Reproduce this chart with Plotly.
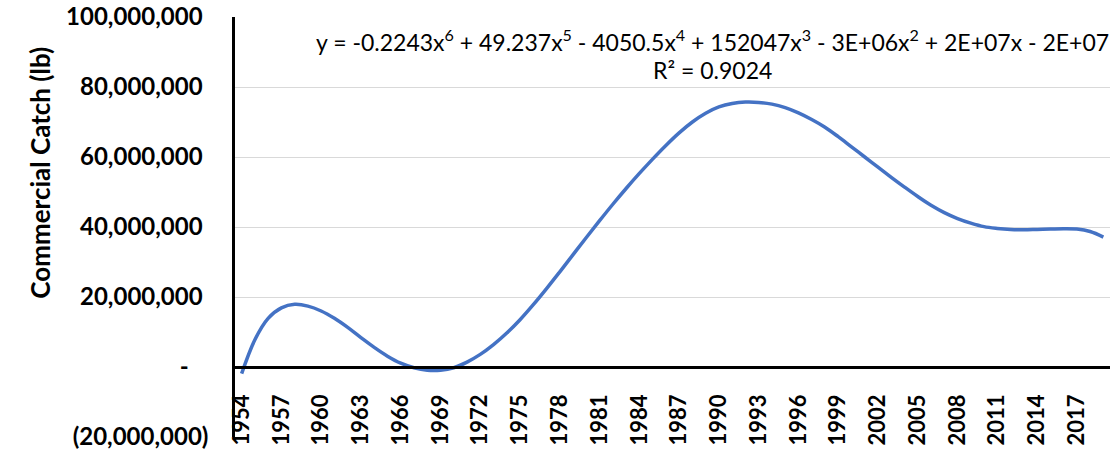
import plotly.graph_objects as go

# Polynomial trend of commercial catch, sampled once per year (millions of lb)
years = list(range(1954, 2020))
catch_mlb = [
    -1.9, 7.8, 13.9, 16.9, 17.9, 17.4, 16.0, 13.9, 11.3, 8.4,
    5.6, 3.1, 1.1, -0.2, -0.9, -0.9, -0.2, 1.4, 3.6, 6.4,
    9.7, 13.5, 17.8, 22.4, 27.2, 32.1, 37.0, 41.8, 46.5, 51.0,
    55.3, 59.4, 63.3, 66.9, 70.0, 72.5, 74.3, 75.3, 75.7, 75.6,
    75.1, 74.1, 72.6, 70.7, 68.5, 65.8, 62.9, 60.0, 57.1, 54.2,
    51.4, 48.7, 46.2, 44.1, 42.4, 41.1, 40.1, 39.6, 39.3, 39.2,
    39.3, 39.4, 39.5, 39.4, 38.7, 37.1,
]
catch_lb = [v * 1_000_000 for v in catch_mlb]

x_ticks = years[::3]
y_ticks = [-20_000_000, 0, 20_000_000, 40_000_000, 60_000_000, 80_000_000, 100_000_000]
y_tick_text = ["(20,000,000)", "-\u2007\u00a0", "20,000,000\u00a0", "40,000,000\u00a0",
               "60,000,000\u00a0", "80,000,000\u00a0", "100,000,000\u00a0"]

equation = ("y = -0.2243x<sup>6</sup> + 49.237x<sup>5</sup> - 4050.5x<sup>4</sup> + "
            "152047x<sup>3</sup> - 3E+06x<sup>2</sup> + 2E+07x - 2E+07")
r_squared = "R² = 0.9024"
y_title = "Commercial Catch (lb)"

FONT = "Lato"
Y_MIN, Y_MAX = -20_000_000, 100_000_000

fig = go.Figure(
    go.Scatter(
        x=years,
        y=catch_lb,
        mode="lines",
        line=dict(color="#4472C4", width=3.5, shape="spline", smoothing=1.0),
        hoverinfo="skip",
    )
)

fig.update_layout(
    width=1120,
    height=452,
    margin=dict(l=235, r=10, t=17, b=15, autoexpand=False),
    plot_bgcolor="white",
    paper_bgcolor="white",
    showlegend=False,
    font=dict(family=FONT, color="black"),
    xaxis=dict(
        range=[years[0] - 0.5, years[-1] + 0.5],
        tickmode="array",
        tickvals=x_ticks,
        ticktext=[str(y) for y in x_ticks],
        tickangle=-90,
        ticks="",
        ticklabelstandoff=17,
        tickfont=dict(family=FONT, size=22, weight="bold", color="black"),
        showgrid=False,
        zeroline=False,
        showline=True,
        linecolor="black",
        linewidth=2.5,
        anchor="free",
        position=(0 - Y_MIN) / (Y_MAX - Y_MIN),
        automargin=False,
    ),
    yaxis=dict(
        range=[Y_MIN, Y_MAX],
        tickmode="array",
        tickvals=y_ticks,
        ticktext=y_tick_text,
        ticks="",
        ticklabelstandoff=19,
        tickfont=dict(family=FONT, size=24, weight="bold", color="black"),
        showgrid=True,
        gridcolor="#D9D9D9",
        gridwidth=1.3,
        zeroline=False,
        showline=True,
        linecolor="black",
        linewidth=2.5,
        automargin=False,
    ),
)

fig.add_annotation(
    text=equation, xref="paper", yref="paper", x=0.546, y=0.943,
    xanchor="center", yanchor="middle", showarrow=False,
    font=dict(family=FONT, size=23, color="black"),
)
fig.add_annotation(
    text=r_squared, xref="paper", yref="paper", x=0.546, y=0.874,
    xanchor="center", yanchor="middle", showarrow=False,
    font=dict(family=FONT, size=23, color="black"),
)
fig.add_annotation(
    text=y_title, xref="paper", yref="paper", x=-0.223, y=0.629,
    xanchor="center", yanchor="middle", showarrow=False, textangle=-90,
    font=dict(family=FONT, size=26, weight="bold", color="black"),
)

fig.write_html("out.html")
